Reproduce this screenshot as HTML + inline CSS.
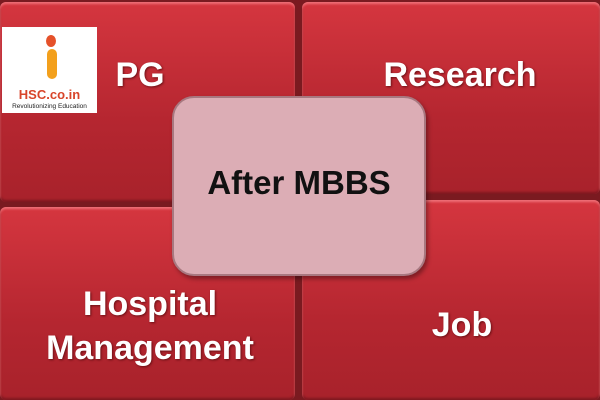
<!DOCTYPE html>
<html><head><style>
body{margin:0;width:600px;height:400px;overflow:hidden;background:#7a1a20;font-family:"Liberation Sans",sans-serif}
.q{position:absolute;background:linear-gradient(#d5363f,#b52630 60%,#a8222b);border-radius:6px;box-shadow:inset 0 2px 2px #ee7077,inset 0 -2px 2px #7e1820;}
.t{position:absolute;color:#fff;font-weight:bold;font-size:34px;text-align:center;text-shadow:1px 1px 2px #6a1015}
</style></head><body>
<div class="q" style="left:0;top:2px;width:295px;height:200px"></div>
<div class="q" style="left:302px;top:2px;width:298px;height:192px"></div>
<div class="q" style="left:0;top:207px;width:295px;height:193px"></div>
<div class="q" style="left:302px;top:200px;width:298px;height:200px"></div>
<div class="t" style="left:110px;top:56px;width:60px">PG</div>
<div class="t" style="left:370px;top:56px;width:180px">Research</div>
<div class="t" style="left:20px;top:282px;width:260px;line-height:44px">Hospital<br>Management</div>
<div class="t" style="left:427px;top:306px;width:70px">Job</div>
<div style="position:absolute;left:2px;top:27px;width:95px;height:86px;background:#fff">
<div style="position:absolute;left:44px;top:8px;width:10px;height:12px;border-radius:50%;background:#e5512a"></div>
<div style="position:absolute;left:45px;top:22px;width:10px;height:30px;border-radius:5px;background:#f3a01c"></div>
<div style="position:absolute;left:0;top:60px;width:95px;text-align:center;color:#d8452a;font-size:13px;font-weight:bold">HSC.co.in</div>
<div style="position:absolute;left:0;top:76px;width:95px;text-align:center;color:#222;font-size:6.5px">Revolutionizing Education</div>
</div>
<div style="position:absolute;left:172px;top:96px;width:254px;height:180px;box-sizing:border-box;background:#dcadb5;border:2px solid #a87880;border-radius:22px;box-shadow:2px 3px 4px rgba(0,0,0,.35)"></div>
<div style="position:absolute;left:172px;top:164px;width:254px;text-align:center;font-size:33px;font-weight:bold;color:#111">After MBBS</div>
</body></html>
